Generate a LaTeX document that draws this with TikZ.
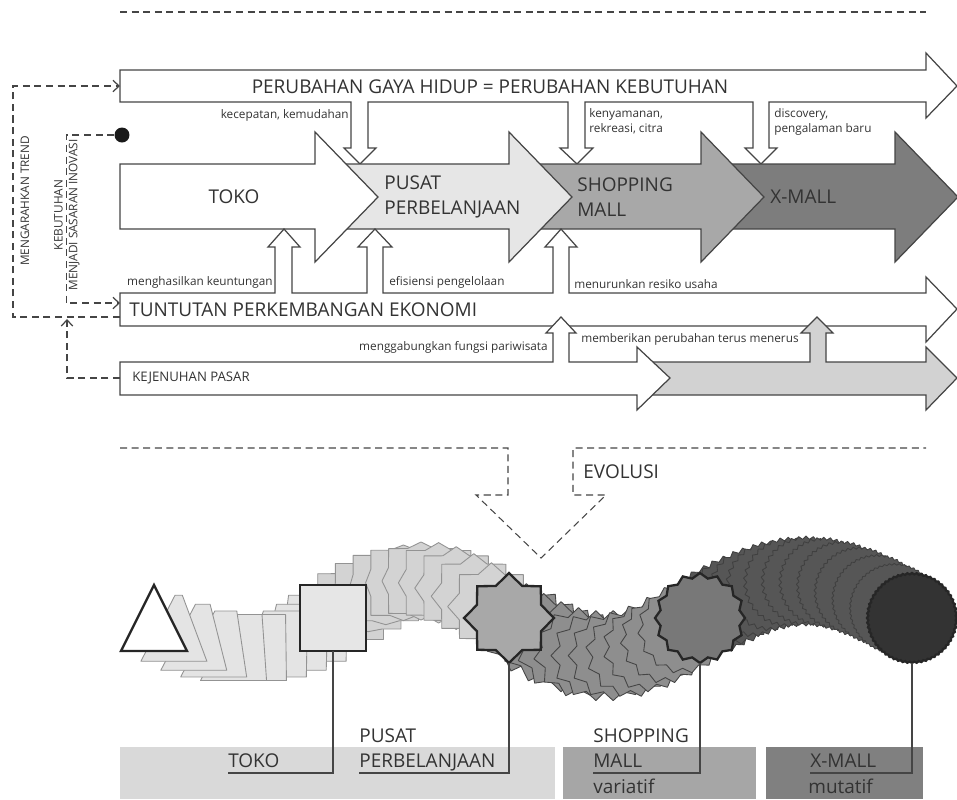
\documentclass[tikz,border=0pt]{standalone}
\usepackage{fontspec}
\setmainfont{Open Sans}
\usetikzlibrary{arrows.meta,shapes.geometric}
\definecolor{ink}{HTML}{454545}
\definecolor{txt}{HTML}{333333}
\definecolor{pusatc}{HTML}{E6E6E6}
\definecolor{shopc}{HTML}{A8A8A8}
\definecolor{xmallc}{HTML}{7D7D7D}
\definecolor{jenuhc}{HTML}{D2D2D2}
\definecolor{tokoM}{HTML}{E4E4E4}
\definecolor{pusatM}{HTML}{D3D3D3}
\definecolor{shopM}{HTML}{8E8E8E}
\definecolor{xmallM}{HTML}{565656}
\tikzset{>=Stealth,
 bar/.style={draw=ink,line width=.7pt,fill=white,line join=miter},
 link/.style={draw=ink,line width=.6pt,dash pattern=on 4pt off 2.6pt},
 tip/.style={-{Straight Barb[length=3.5pt,width=6.5pt,line width=.7pt]}},
 big/.style={font=\fontsize{10.8}{14}\selectfont,text=txt,inner sep=0,align=left},
 small/.style={font=\fontsize{6.7}{8.6}\selectfont,text=txt,inner sep=0,align=left},
 side/.style={font=\fontsize{6.7}{8.4}\selectfont,text=txt,inner sep=0,rotate=90,align=center},
 legend/.style={font=\fontsize{10.8}{14}\selectfont,text=txt,inner sep=0,anchor=base west},
 morph/.style={line width=.5pt,line join=round},
 hero/.style={draw=black!85,line width=1.3pt,inner sep=0,outer sep=0,line join=miter},
 lead/.style={draw=ink,line width=.7pt}}
\pgfmathdeclarefunction{sqoct}{2}{\pgfmathparse{(1-#2)*33/max(abs(cos(#1)),abs(sin(#1)))+#2*(45-10.4*(mod(#1,45)>1))}}
\begin{document}
\begin{tikzpicture}[x=0.02cm,y=-0.02cm]
\useasboundingbox (0,0) rectangle (957,799);
\draw[link] (120,12) -- (926,12);
\draw[bar] (120,70) -- (926,70) -- (926,53) -- (957,86) -- (926,118) -- (926,102) -- (769,102) -- (769,148) -- (777,148) -- (761,164) -- (745,148) -- (753,148) -- (753,102) -- (585,102) -- (585,148) -- (593,148) -- (577,164) -- (560,148) -- (568,148) -- (568,102) -- (368,102) -- (368,148) -- (376,148) -- (360,164) -- (344,148) -- (351,148) -- (351,102) -- (120,102) -- cycle;
\foreach \a/\b/\c in {701/895/xmallc,509/701/shopc,315/509/pusatc,120/315/white}{\draw[bar,fill=\c] (\a,164) -- (\b,164) -- (\b,132) -- ({\b+63},197) -- (\b,262) -- (\b,229) -- (\a,229) -- cycle;}
\draw[bar] (120,293) -- (275,293) -- (275,247) -- (268,247) -- (284,229) -- (300,247) -- (292,247) -- (292,293) -- (367,293) -- (367,247) -- (358,247) -- (375,229) -- (392,247) -- (383,247) -- (383,293) -- (553,293) -- (553,247) -- (545,247) -- (561,229) -- (577,247) -- (569,247) -- (569,293) -- (926,293) -- (926,277) -- (957,309) -- (926,342) -- (926,326) -- (120,326) -- cycle;
\draw[bar,fill=jenuhc] (637,362) -- (810,362) -- (810,333) -- (801,333) -- (817,317) -- (833,333) -- (826,333) -- (826,362) -- (926,362) -- (926,347) -- (957,378) -- (926,410) -- (926,395) -- (637,395) -- cycle;
\draw[bar] (120,362) -- (553,362) -- (553,333) -- (546,333) -- (561,317) -- (576,333) -- (569,333) -- (569,362) -- (637,362) -- (637,347) -- (670,378) -- (637,410) -- (637,395) -- (120,395) -- cycle;
\node[big] (gaya) at (490,87) {PERUBAHAN GAYA HIDUP = PERUBAHAN KEBUTUHAN};
\node[small,anchor=east] (cepat) at (349,115) {kecepatan, kemudahan};
\node[small,anchor=north west] (nyaman) at (589,108) {kenyamanan,\\rekreasi, citra};
\node[small,anchor=north west] (temu) at (774,108) {discovery,\\pengalaman baru};
\node[big] (toko) at (234,197) {TOKO};
\node[big,anchor=west] (pusat) at (384,197) {PUSAT\\PERBELANJAAN};
\node[big,anchor=west] (shop) at (577,197) {SHOPPING\\MALL};
\node[big,anchor=west] (xmall) at (770,197) {X-MALL};
\node[small,anchor=east] (untung) at (273,282) {menghasilkan keuntungan};
\node[small,anchor=west] (efisien) at (389,282) {efisiensi pengelolaan};
\node[small,anchor=west] (resiko) at (574,284) {menurunkan resiko usaha};
\node[big,anchor=west] (tuntut) at (129,310) {TUNTUTAN PERKEMBANGAN EKONOMI};
\node[small,anchor=east] (wisata) at (548,347) {menggabungkan fungsi pariwisata};
\node[small,anchor=west] (ubah) at (581,339) {memberikan perubahan terus menerus};
\node[small,font=\fontsize{7.5}{9}\selectfont,anchor=west] (jenuh) at (132,378) {KEJENUHAN PASAR};
\node[side] (trend) at (25,201) {MENGARAHKAN TREND};
\node[side] (inovasi) at (67,215) {KEBUTUHAN\\MENJADI SASARAN INOVASI};
\node[circle,fill=black!90,inner sep=0,minimum size=0.3cm] (dot) at (122,135) {};
\coordinate (gayaW) at (120,86); \coordinate (tuntA) at (120,303); \coordinate (tuntB) at (120,317); \coordinate (jenuhW) at (120,378);
\draw[link,tip] (tuntB) -- ++(-107,0) |- (gayaW);
\draw[link,tip] (dot.west) -- ++(-48,0) |- (tuntA);
\draw[link,tip] (jenuhW) -- ++(-53,0) -- ++(0,-59);
\draw[link] (120,448) -- (508,448) -- (508,495) -- (476,495) -- (541,558) -- (606,495) -- (573,495) -- (573,448) -- (926,448);
\node[big,anchor=west] (evolusi) at (583,472) {EVOLUSI};
\foreach \i in {8,7,...,1}{\pgfmathsetmacro\t{\i/9}\pgfmathsetmacro\cx{154+179*\t}\pgfmathsetmacro\cy{618+30*sin(180*\t)}\pgfmathsetmacro\w{33*\t}\pgfmathsetmacro\s{14*sin(180*\t)}
 \draw[morph,draw=gray!85,fill=tokoM] (\cx-33,\cy+33) -- (\cx+33,\cy+33) -- (\cx+\w+\s,\cy-33) -- (\cx-\w+\s,\cy-33) -- cycle;}
\foreach \i in {1,...,9}{\pgfmathsetmacro\t{\i/10}\pgfmathsetmacro\cx{333+176*\t}\pgfmathsetmacro\cy{618-37*sin(180*\t)}
 \draw[morph,draw=gray!85,fill=pusatM] plot[samples at={0,22.5,...,337.5},variable=\a] ({\cx+sqoct(\a,\t)*cos(\a)},{\cy+sqoct(\a,\t)*sin(\a)}) -- cycle;}
\foreach \i in {1,...,10}{\pgfmathsetmacro\t{\i/11}\pgfmathsetmacro\cx{509+191*\t}\pgfmathsetmacro\cy{618+38*sin(180*\t)}\pgfmathtruncatemacro\n{8.5+8*\t}\pgfmathsetmacro\r{1.30-0.18*\t}
 \node[star,star points=\n,star point ratio=\r,minimum size=1.8cm,inner sep=0,morph,draw=ink,fill=shopM] (m\i) at (\cx,\cy) {};}
\foreach \i in {1,...,11}{\pgfmathsetmacro\t{\i/12}\pgfmathsetmacro\cx{700+212*\t}\pgfmathsetmacro\cy{618-37*sin(180*\t)}\pgfmathtruncatemacro\n{16.5+44*\t}\pgfmathsetmacro\r{1.12-0.09*\t}
 \node[star,star points=\n,star point ratio=\r,minimum size=1.8cm,inner sep=0,morph,draw=black!75,fill=xmallM] (x\i) at (\cx,\cy) {};}
\draw[hero,fill=white] (121,651) -- (187,651) -- (154,585) -- cycle;
\node[hero,rectangle,fill=pusatc,minimum size=1.32cm] (sq) at (333,618) {};
\node[hero,star,star points=8,star point ratio=1.3,minimum size=1.8cm,fill=shopc] (oct) at (509,618) {};
\node[hero,star,star points=16,star point ratio=1.12,minimum size=1.8cm,fill=black!53] (st16) at (700,618) {};
\node[hero,star,star points=60,star point ratio=1.03,minimum size=1.8cm,fill=black!80] (circ) at (912,618) {};
\fill[black!15] (120,747) rectangle (555,799);
\fill[black!35] (563,747) rectangle (756,799);
\fill[black!50] (766,747) rectangle (923,799);
\node[legend] (tokoT) at (228,767) {TOKO};
\node[legend] (pusatA) at (359,742) {PUSAT};
\node[legend] (pusatT) at (359,767) {PERBELANJAAN};
\node[legend] (shopA) at (593,742) {SHOPPING};
\node[legend] (shopT) at (593,767) {MALL};
\node[legend] (shopV) at (593,793) {variatif};
\node[legend] (xmT) at (810,767) {X-MALL};
\node[legend] (xmV) at (808,793) {mutatif};
\draw[lead] (sq.south) |- ([yshift=-0.12cm]tokoT.base west);
\draw[lead] (oct.south) |- ([yshift=-0.12cm]pusatT.base west);
\draw[lead] (st16.south) |- ([yshift=-0.12cm]shopT.base west);
\draw[lead] (circ.south) |- ([yshift=-0.12cm]xmT.base west);
\end{tikzpicture}
\end{document}
